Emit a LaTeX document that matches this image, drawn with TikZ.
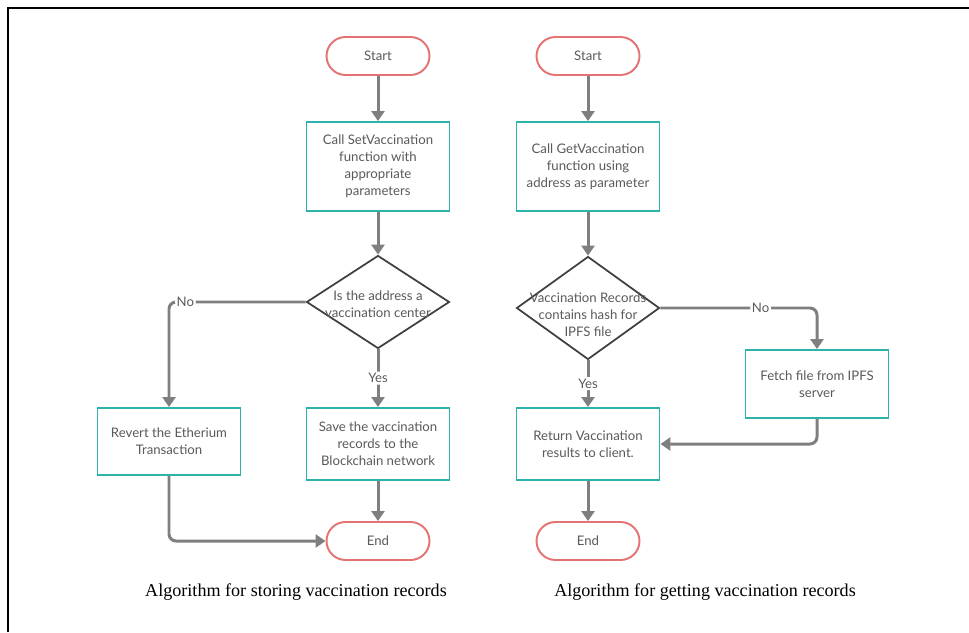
\documentclass[tikz,border=0pt]{standalone}
\usepackage{fontspec}
\setmainfont{Liberation Serif}
\newfontfamily\latofont{Lato}
\usetikzlibrary{shapes.geometric,arrows.meta}
\definecolor{termred}{HTML}{E57373}
\definecolor{procteal}{HTML}{2DB2AC}
\definecolor{linegray}{HTML}{7F7F7F}
\definecolor{txtgray}{HTML}{5A5A5A}
\definecolor{diagray}{HTML}{404040}
\tikzset{
  every node/.style={font=\latofont\fontsize{7.5}{9.7}\selectfont,text=txtgray},
  termnode/.style={draw=termred,line width=1.1pt,fill=white,rounded corners=0.38cm,minimum width=2.06cm,minimum height=0.76cm},
  procbox/.style={draw=procteal,line width=1.1pt,fill=white,minimum width=2.86cm,align=center,inner sep=2pt},
  decision/.style={diamond,draw=diagray,line width=1pt,fill=white,minimum width=2.86cm,inner sep=0pt},
  flowarrow/.style={draw=linegray,line width=1.7pt,-{Triangle[width=0.26cm,length=0.2cm]},rounded corners=0.14cm},
  branchlbl/.style={fill=white,inner sep=1pt},
  caption/.style={font=\fontsize{10.3}{12}\selectfont,text=black}
}
\begin{document}
\begin{tikzpicture}[x=0.02cm,y=-0.02cm]
  \useasboundingbox (0,0) rectangle (969,632);
  \draw[line width=1.6pt] (8,632) -- (8,8) -- (969,8);
  % storing
  \node[termnode] (startA) at (378,56) {Start};
  \node[procbox,minimum height=1.78cm] (setcall) at (378,166.5) {Call SetVaccination\\function with\\appropriate\\parameters};
  \node[decision,minimum height=1.86cm,label={[align=center,yshift=-0.04cm]center:{Is the address a\\vaccination center}}] (isctr) at (378,302) {};
  \node[procbox,minimum height=1.34cm] (revert) at (169,441.5) {Revert the Etherium\\Transaction};
  \node[procbox,minimum height=1.44cm] (save) at (378,444) {Save the vaccination\\records to the\\Blockchain network};
  \node[termnode] (endA) at (378,541) {End};
  % getting
  \node[termnode] (startB) at (588,56) {Start};
  \node[procbox,minimum height=1.78cm] (getcall) at (588,166.5) {Call GetVaccination\\function using\\address as parameter};
  \node[decision,minimum height=2.06cm,label={[align=center,yshift=-0.14cm]center:{Vaccination Records\\contains hash for\\IPFS file}}] (hashq) at (588,308) {};
  \node[procbox,minimum height=1.36cm] (fetch) at (817,384) {Fetch file from IPFS\\server};
  \node[procbox,minimum height=1.44cm] (ret) at (588,444) {Return Vaccination\\results to client.};
  \node[termnode] (endB) at (588,541) {End};
  \node[caption] (capA) at (296,592) {Algorithm for storing vaccination records};
  \node[caption] (capB) at (705,592) {Algorithm for getting vaccination records};
  \draw[flowarrow] (startA) -- (setcall);
  \draw[flowarrow] (setcall) -- (isctr);
  \draw[flowarrow] (isctr.west) -| node[branchlbl,pos=0.44] {No} (revert.north);
  \draw[flowarrow] (isctr.south) -- node[branchlbl] {Yes} (save.north);
  \draw[flowarrow] (save) -- (endA);
  \draw[flowarrow] (revert.south) |- (endA.west);
  \draw[flowarrow] (startB) -- (getcall);
  \draw[flowarrow] (getcall) -- (hashq);
  \draw[flowarrow] (hashq.east) -| node[branchlbl,pos=0.32] {No} (fetch.north);
  \draw[flowarrow] (hashq.south) -- node[branchlbl] {Yes} (ret.north);
  \draw[flowarrow] (fetch.south) |- (ret.east);
  \draw[flowarrow] (ret) -- (endB);
\end{tikzpicture}
\end{document}
